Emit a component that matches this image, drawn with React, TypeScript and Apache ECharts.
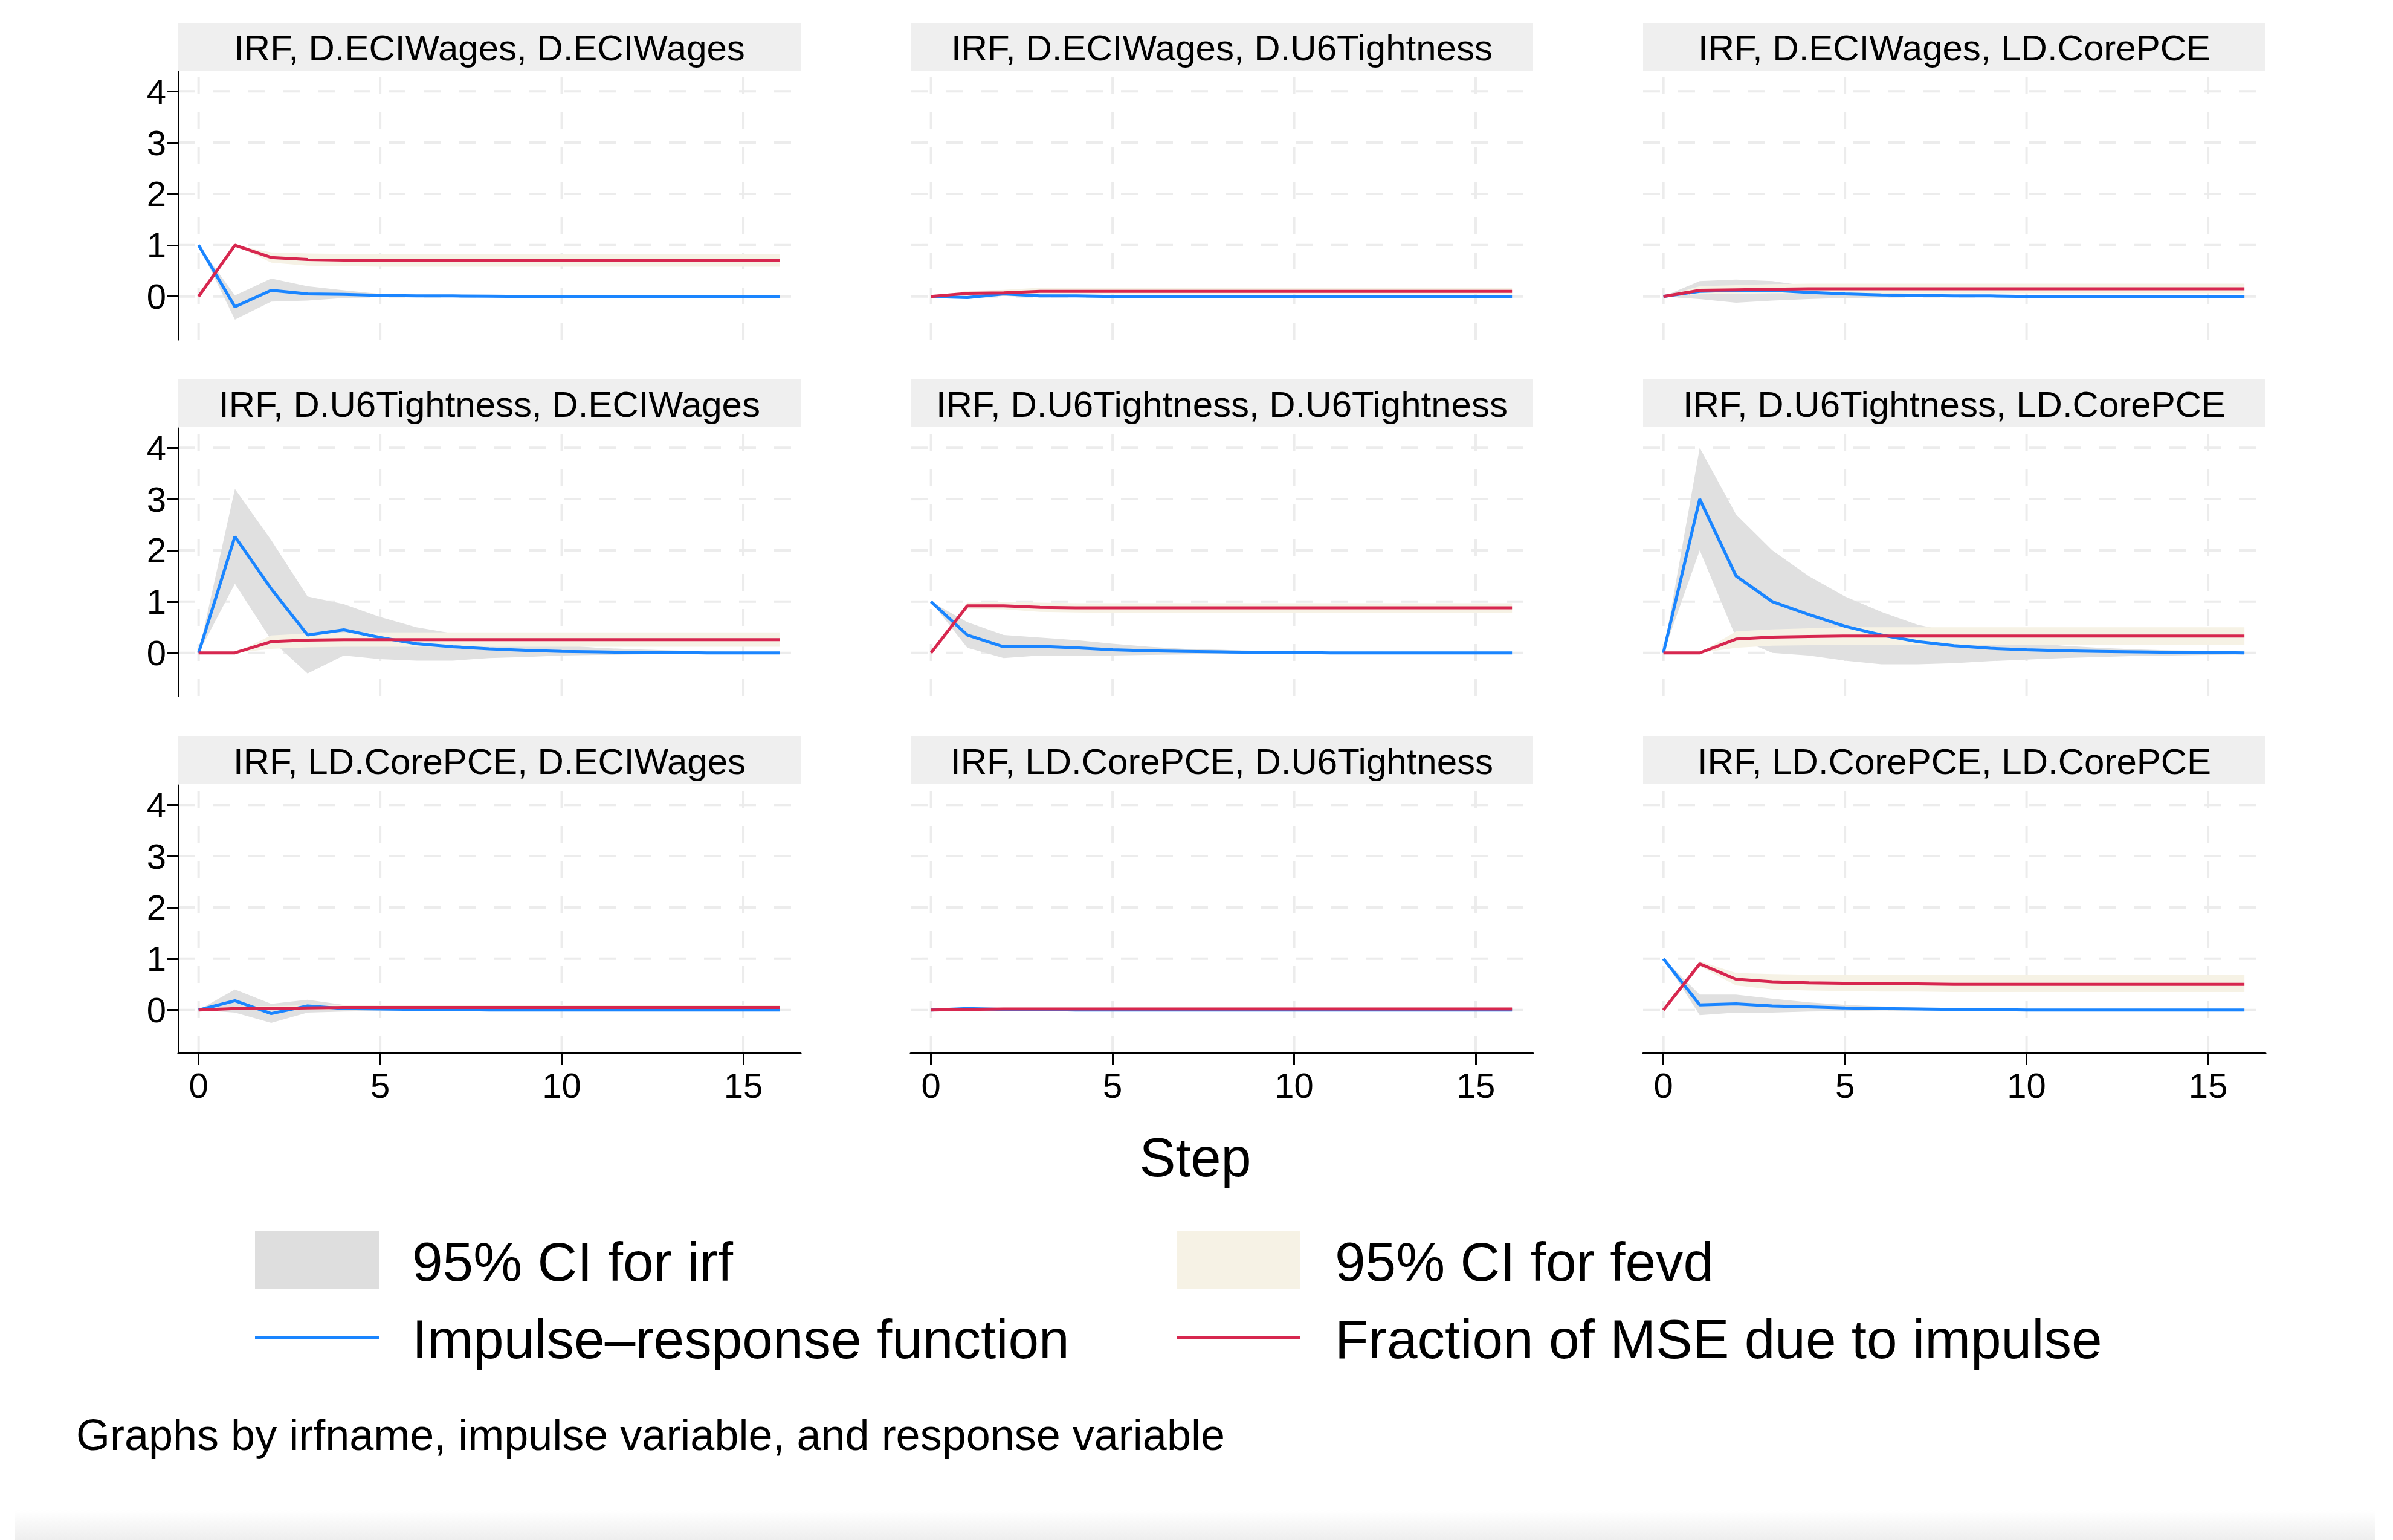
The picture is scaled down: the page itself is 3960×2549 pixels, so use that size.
import React, { useEffect, useRef } from 'react';
import * as echarts from 'echarts';

// steps 0..16
const steps = [0, 1, 2, 3, 4, 5, 6, 7, 8, 9, 10, 11, 12, 13, 14, 15, 16];
const yTicks = [0, 1, 2, 3, 4];
const xTicks = [0, 5, 10, 15];

const impulses = ['D.ECIWages', 'D.U6Tightness', 'LD.CorePCE'];
const responses = ['D.ECIWages', 'D.U6Tightness', 'LD.CorePCE'];

// row = impulse, col = response
const irf11 = [1, -0.2, 0.12, 0.05, 0.04, 0.02, 0.01, 0.01, 0.005, 0, 0, 0, 0, 0, 0, 0, 0];
const irfLo11 = [1, -0.45, -0.1, -0.08, -0.03, -0.01, 0, 0, 0, 0, 0, 0, 0, 0, 0, 0, 0];
const irfHi11 = [1, 0.02, 0.35, 0.2, 0.12, 0.05, 0.03, 0.02, 0.01, 0.01, 0, 0, 0, 0, 0, 0, 0];
const fevd11 = [0, 1, 0.76, 0.72, 0.71, 0.7, 0.7, 0.7, 0.7, 0.7, 0.7, 0.7, 0.7, 0.7, 0.7, 0.7, 0.7];
const fevdLo11 = [0, 1, 0.66, 0.6, 0.59, 0.58, 0.58, 0.58, 0.58, 0.58, 0.58, 0.58, 0.58, 0.58, 0.58, 0.58, 0.58];
const fevdHi11 = [0, 1, 0.86, 0.84, 0.83, 0.83, 0.83, 0.83, 0.83, 0.83, 0.83, 0.83, 0.83, 0.83, 0.83, 0.83, 0.83];

const irf12 = [0, -0.02, 0.05, 0.01, 0.01, 0, 0, 0, 0, 0, 0, 0, 0, 0, 0, 0, 0];
const irfLo12 = [0, -0.05, 0.01, -0.02, -0.01, -0.01, 0, 0, 0, 0, 0, 0, 0, 0, 0, 0, 0];
const irfHi12 = [0, 0.01, 0.09, 0.04, 0.03, 0.01, 0.01, 0, 0, 0, 0, 0, 0, 0, 0, 0, 0];
const fevd12 = [0, 0.06, 0.07, 0.1, 0.1, 0.1, 0.1, 0.1, 0.1, 0.1, 0.1, 0.1, 0.1, 0.1, 0.1, 0.1, 0.1];
const fevdLo12 = [0, 0.01, 0.02, 0.04, 0.04, 0.04, 0.04, 0.04, 0.04, 0.04, 0.04, 0.04, 0.04, 0.04, 0.04, 0.04, 0.04];
const fevdHi12 = [0, 0.11, 0.13, 0.17, 0.17, 0.17, 0.17, 0.17, 0.17, 0.17, 0.17, 0.17, 0.17, 0.17, 0.17, 0.17, 0.17];

const irf13 = [0, 0.1, 0.12, 0.12, 0.08, 0.05, 0.03, 0.02, 0.01, 0.01, 0, 0, 0, 0, 0, 0, 0];
const irfLo13 = [0, -0.05, -0.12, -0.08, -0.05, -0.03, -0.02, -0.01, -0.01, 0, 0, 0, 0, 0, 0, 0, 0];
const irfHi13 = [0, 0.3, 0.33, 0.3, 0.2, 0.13, 0.08, 0.05, 0.03, 0.02, 0.01, 0, 0, 0, 0, 0, 0];
const fevd13 = [0, 0.12, 0.13, 0.14, 0.15, 0.15, 0.15, 0.15, 0.15, 0.15, 0.15, 0.15, 0.15, 0.15, 0.15, 0.15, 0.15];
const fevdLo13 = [0, 0.04, 0.05, 0.06, 0.06, 0.06, 0.06, 0.06, 0.06, 0.06, 0.06, 0.06, 0.06, 0.06, 0.06, 0.06, 0.06];
const fevdHi13 = [0, 0.2, 0.22, 0.24, 0.25, 0.25, 0.25, 0.25, 0.25, 0.25, 0.25, 0.25, 0.25, 0.25, 0.25, 0.25, 0.25];

const irf21 = [0, 2.27, 1.25, 0.35, 0.45, 0.3, 0.18, 0.12, 0.08, 0.05, 0.03, 0.02, 0.01, 0.01, 0, 0, 0];
const irfLo21 = [0, 1.35, 0.25, -0.4, -0.05, -0.12, -0.15, -0.15, -0.1, -0.08, -0.05, -0.04, -0.03, -0.02, -0.01, -0.01, 0];
const irfHi21 = [0, 3.2, 2.2, 1.1, 0.95, 0.7, 0.5, 0.38, 0.3, 0.22, 0.15, 0.1, 0.07, 0.05, 0.03, 0.02, 0.01];
const fevd21 = [0, 0, 0.22, 0.25, 0.26, 0.26, 0.26, 0.26, 0.26, 0.26, 0.26, 0.26, 0.26, 0.26, 0.26, 0.26, 0.26];
const fevdLo21 = [0, 0, 0.08, 0.11, 0.12, 0.12, 0.12, 0.12, 0.12, 0.12, 0.12, 0.12, 0.12, 0.12, 0.12, 0.12, 0.12];
const fevdHi21 = [0, 0, 0.34, 0.38, 0.4, 0.4, 0.4, 0.4, 0.4, 0.4, 0.4, 0.4, 0.4, 0.4, 0.4, 0.4, 0.4];

const irf22 = [1, 0.35, 0.12, 0.13, 0.1, 0.06, 0.04, 0.03, 0.02, 0.01, 0.01, 0, 0, 0, 0, 0, 0];
const irfLo22 = [1, 0.1, -0.1, -0.05, -0.05, -0.05, -0.04, -0.03, -0.02, -0.01, -0.01, 0, 0, 0, 0, 0, 0];
const irfHi22 = [1, 0.6, 0.35, 0.3, 0.25, 0.18, 0.12, 0.08, 0.06, 0.04, 0.03, 0.02, 0.01, 0.01, 0, 0, 0];
const fevd22 = [0, 0.92, 0.92, 0.89, 0.88, 0.88, 0.88, 0.88, 0.88, 0.88, 0.88, 0.88, 0.88, 0.88, 0.88, 0.88, 0.88];
const fevdLo22 = [0, 0.86, 0.85, 0.8, 0.79, 0.78, 0.78, 0.78, 0.78, 0.78, 0.78, 0.78, 0.78, 0.78, 0.78, 0.78, 0.78];
const fevdHi22 = [0, 0.98, 0.99, 0.98, 0.97, 0.97, 0.97, 0.97, 0.97, 0.97, 0.97, 0.97, 0.97, 0.97, 0.97, 0.97, 0.97];

const irf23 = [0, 3.0, 1.5, 1.0, 0.75, 0.52, 0.35, 0.22, 0.14, 0.09, 0.06, 0.04, 0.03, 0.02, 0.01, 0.01, 0];
const irfLo23 = [0, 2.0, 0.3, 0, -0.05, -0.15, -0.22, -0.22, -0.2, -0.16, -0.13, -0.1, -0.08, -0.06, -0.05, -0.04, -0.03];
const irfHi23 = [0, 4.0, 2.7, 2.0, 1.5, 1.1, 0.8, 0.55, 0.4, 0.3, 0.2, 0.14, 0.1, 0.07, 0.05, 0.04, 0.03];
const fevd23 = [0, 0, 0.27, 0.31, 0.32, 0.33, 0.33, 0.33, 0.33, 0.33, 0.33, 0.33, 0.33, 0.33, 0.33, 0.33, 0.33];
const fevdLo23 = [0, 0, 0.1, 0.14, 0.15, 0.15, 0.15, 0.15, 0.15, 0.15, 0.15, 0.15, 0.15, 0.15, 0.15, 0.15, 0.15];
const fevdHi23 = [0, 0, 0.42, 0.46, 0.48, 0.5, 0.5, 0.5, 0.5, 0.5, 0.5, 0.5, 0.5, 0.5, 0.5, 0.5, 0.5];

const irf31 = [0, 0.18, -0.07, 0.08, 0.03, 0.02, 0.01, 0.01, 0, 0, 0, 0, 0, 0, 0, 0, 0];
const irfLo31 = [0, -0.05, -0.25, -0.05, -0.03, -0.02, -0.01, 0, 0, 0, 0, 0, 0, 0, 0, 0, 0];
const irfHi31 = [0, 0.4, 0.12, 0.2, 0.1, 0.05, 0.03, 0.02, 0.01, 0, 0, 0, 0, 0, 0, 0, 0];
const fevd31 = [0, 0.03, 0.03, 0.04, 0.05, 0.05, 0.05, 0.05, 0.05, 0.05, 0.05, 0.05, 0.05, 0.05, 0.05, 0.05, 0.05];
const fevdLo31 = [0, 0, 0, 0.01, 0.01, 0.01, 0.01, 0.01, 0.01, 0.01, 0.01, 0.01, 0.01, 0.01, 0.01, 0.01, 0.01];
const fevdHi31 = [0, 0.07, 0.08, 0.09, 0.1, 0.1, 0.1, 0.1, 0.1, 0.1, 0.1, 0.1, 0.1, 0.1, 0.1, 0.1, 0.1];

const irf32 = [0, 0.03, 0.01, 0.01, 0, 0, 0, 0, 0, 0, 0, 0, 0, 0, 0, 0, 0];
const irfLo32 = [0, 0, -0.02, -0.01, -0.01, 0, 0, 0, 0, 0, 0, 0, 0, 0, 0, 0, 0];
const irfHi32 = [0, 0.06, 0.04, 0.03, 0.01, 0.01, 0, 0, 0, 0, 0, 0, 0, 0, 0, 0, 0];
const fevd32 = [0, 0.01, 0.02, 0.02, 0.02, 0.02, 0.02, 0.02, 0.02, 0.02, 0.02, 0.02, 0.02, 0.02, 0.02, 0.02, 0.02];
const fevdLo32 = [0, 0, 0, 0, 0, 0, 0, 0, 0, 0, 0, 0, 0, 0, 0, 0, 0];
const fevdHi32 = [0, 0.03, 0.05, 0.05, 0.05, 0.05, 0.05, 0.05, 0.05, 0.05, 0.05, 0.05, 0.05, 0.05, 0.05, 0.05, 0.05];

const irf33 = [1, 0.1, 0.12, 0.08, 0.06, 0.04, 0.03, 0.02, 0.01, 0.01, 0, 0, 0, 0, 0, 0, 0];
const irfLo33 = [1, -0.1, -0.05, -0.05, -0.03, -0.02, -0.01, -0.01, 0, 0, 0, 0, 0, 0, 0, 0, 0];
const irfHi33 = [1, 0.3, 0.3, 0.22, 0.15, 0.1, 0.07, 0.05, 0.03, 0.02, 0.01, 0.01, 0, 0, 0, 0, 0];
const fevd33 = [0, 0.9, 0.6, 0.55, 0.53, 0.52, 0.51, 0.51, 0.5, 0.5, 0.5, 0.5, 0.5, 0.5, 0.5, 0.5, 0.5];
const fevdLo33 = [0, 0.85, 0.48, 0.4, 0.38, 0.37, 0.36, 0.36, 0.35, 0.35, 0.35, 0.35, 0.35, 0.35, 0.35, 0.35, 0.35];
const fevdHi33 = [0, 0.95, 0.72, 0.7, 0.69, 0.68, 0.68, 0.68, 0.68, 0.68, 0.68, 0.68, 0.68, 0.68, 0.68, 0.68, 0.68];

const panels = [
  [irf11, irfLo11, irfHi11, fevd11, fevdLo11, fevdHi11],
  [irf12, irfLo12, irfHi12, fevd12, fevdLo12, fevdHi12],
  [irf13, irfLo13, irfHi13, fevd13, fevdLo13, fevdHi13],
  [irf21, irfLo21, irfHi21, fevd21, fevdLo21, fevdHi21],
  [irf22, irfLo22, irfHi22, fevd22, fevdLo22, fevdHi22],
  [irf23, irfLo23, irfHi23, fevd23, fevdLo23, fevdHi23],
  [irf31, irfLo31, irfHi31, fevd31, fevdLo31, fevdHi31],
  [irf32, irfLo32, irfHi32, fevd32, fevdLo32, fevdHi32],
  [irf33, irfLo33, irfHi33, fevd33, fevdLo33, fevdHi33],
];

const FONT = 'Liberation Sans, Arial, sans-serif';
const BLUE = '#1a85ff';
const RED = '#d7274f';
const IRF_BAND = '#e0e0e0';
const FEVD_BAND = '#f6f2e5';
const GRIDC = '#ececec';

const X_MIN = -0.56;
const X_MAX = 16.58;
const Y_MIN = -0.84;
const Y_MAX = 4.38;

const colLeft = [295, 1507, 2719];
const rowTop = [119, 709, 1300];
const gridW = 1030;
const gridH = 443;

const bandSeries = (lo: number[], hi: number[], color: string, idx: number, z: number) => ({
  type: 'custom',
  xAxisIndex: idx,
  yAxisIndex: idx,
  z,
  silent: true,
  data: [0],
  renderItem: (_p: unknown, api: any) => {
    const top = steps.map((s, i) => api.coord([s, hi[i]]));
    const bottom = steps.map((s, i) => api.coord([s, lo[i]])).reverse();
    return { type: 'polygon', shape: { points: top.concat(bottom) }, style: { fill: color } };
  },
});

// dashed grid lines, drawn beneath everything
const gridSeries = (idx: number) => ({
  type: 'custom',
  xAxisIndex: idx,
  yAxisIndex: idx,
  z: 0,
  silent: true,
  data: [0],
  renderItem: (_p: unknown, api: any) => {
    const style = { stroke: GRIDC, lineWidth: 4, lineDash: [28, 30] };
    const children: any[] = [];
    yTicks.forEach((v) => {
      const a = api.coord([X_MIN, v]);
      const b = api.coord([X_MAX, v]);
      children.push({ type: 'line', shape: { x1: a[0], y1: a[1], x2: b[0], y2: b[1] }, style });
    });
    xTicks.forEach((v) => {
      const a = api.coord([v, Y_MIN]);
      const b = api.coord([v, Y_MAX]);
      children.push({ type: 'line', shape: { x1: a[0], y1: a[1], x2: b[0], y2: b[1] }, style });
    });
    return { type: 'group', children };
  },
});

const App = () => {
  const ref = useRef<HTMLDivElement>(null);

  useEffect(() => {
    document.body.style.margin = '0';
    if (!ref.current) return;
    const chart = echarts.init(ref.current, undefined, { renderer: 'svg' });

    const grids: any[] = [];
    const xAxes: any[] = [];
    const yAxes: any[] = [];
    const series: any[] = [];
    const graphics: any[] = [];

    for (let r = 0; r < 3; r++) {
      for (let c = 0; c < 3; c++) {
        const idx = r * 3 + c;
        const [irf, irfLo, irfHi, fevd, fevdLo, fevdHi] = panels[idx];
        grids.push({ left: colLeft[c], top: rowTop[r], width: gridW, height: gridH });
        xAxes.push({
          type: 'value',
          gridIndex: idx,
          min: X_MIN,
          max: X_MAX,
          axisLine: { show: r === 2, onZero: false, lineStyle: { color: '#000', width: 3 } },
          axisTick: { show: r === 2, customValues: xTicks, length: 20, lineStyle: { color: '#000', width: 3 } },
          axisLabel: {
            show: r === 2,
            customValues: xTicks,
            fontSize: 58,
            fontFamily: FONT,
            color: '#000',
            margin: 24,
          },
          splitLine: { show: false },
        });
        yAxes.push({
          type: 'value',
          gridIndex: idx,
          min: Y_MIN,
          max: Y_MAX,
          axisLine: { show: c === 0, onZero: false, lineStyle: { color: '#000', width: 3 } },
          axisTick: { show: c === 0, customValues: yTicks, length: 18, lineStyle: { color: '#000', width: 3 } },
          axisLabel: {
            show: c === 0,
            customValues: yTicks,
            fontSize: 58,
            fontFamily: FONT,
            color: '#000',
            margin: 20,
          },
          splitLine: { show: false },
        });
        series.push(gridSeries(idx));
        series.push(bandSeries(irfLo, irfHi, IRF_BAND, idx, 1));
        series.push(bandSeries(fevdLo, fevdHi, FEVD_BAND, idx, 2));
        series.push({
          type: 'line',
          xAxisIndex: idx,
          yAxisIndex: idx,
          z: 3,
          symbol: 'none',
          silent: true,
          data: steps.map((s, i) => [s, irf[i]]),
          lineStyle: { color: BLUE, width: 5 },
        });
        series.push({
          type: 'line',
          xAxisIndex: idx,
          yAxisIndex: idx,
          z: 4,
          symbol: 'none',
          silent: true,
          data: steps.map((s, i) => [s, fevd[i]]),
          lineStyle: { color: RED, width: 5 },
        });
        // strip
        graphics.push({
          type: 'rect',
          shape: { x: colLeft[c], y: rowTop[r] - 81, width: gridW, height: 79 },
          style: { fill: '#efefef' },
        });
        graphics.push({
          type: 'text',
          x: colLeft[c] + gridW / 2,
          y: rowTop[r] - 40,
          style: {
            text: `IRF, ${impulses[r]}, ${responses[c]}`,
            fontSize: 60,
            fontFamily: FONT,
            fill: '#000',
            align: 'center',
            verticalAlign: 'middle',
          },
        });
      }
    }

    const txt = (x: number, y: number, text: string, size: number, align = 'left') => ({
      type: 'text',
      x,
      y,
      style: { text, fontSize: size, fontFamily: FONT, fill: '#000', align, verticalAlign: 'middle' },
    });

    graphics.push(txt(1978, 1916, 'Step', 90, 'center'));
    graphics.push({ type: 'rect', shape: { x: 422, y: 2038, width: 205, height: 96 }, style: { fill: '#dedede' } });
    graphics.push({ type: 'rect', shape: { x: 1947, y: 2038, width: 205, height: 96 }, style: { fill: FEVD_BAND } });
    graphics.push({ type: 'line', shape: { x1: 422, y1: 2214, x2: 627, y2: 2214 }, style: { stroke: BLUE, lineWidth: 6 } });
    graphics.push({ type: 'line', shape: { x1: 1947, y1: 2214, x2: 2152, y2: 2214 }, style: { stroke: RED, lineWidth: 6 } });
    graphics.push(txt(682, 2088, '95% CI for irf', 91));
    graphics.push(txt(2209, 2088, '95% CI for fevd', 91));
    graphics.push(txt(682, 2216, 'Impulse–response function', 91));
    graphics.push(txt(2209, 2216, 'Fraction of MSE due to impulse', 91));
    graphics.push(txt(126, 2375, 'Graphs by irfname, impulse variable, and response variable', 72));
    graphics.push({
      type: 'rect',
      shape: { x: 25, y: 2500, width: 3905, height: 49 },
      style: {
        fill: new echarts.graphic.LinearGradient(0, 0, 0, 1, [
          { offset: 0, color: '#ffffff' },
          { offset: 1, color: '#eeeeee' },
        ]),
      },
    });

    chart.setOption({
      animation: false,
      backgroundColor: '#fff',
      grid: grids,
      xAxis: xAxes,
      yAxis: yAxes,
      series,
      graphic: graphics,
    });

    return () => {
      chart.dispose();
    };
  }, []);

  return <div ref={ref} style={{ width: 3960, height: 2549 }} />;
};

export default App;
